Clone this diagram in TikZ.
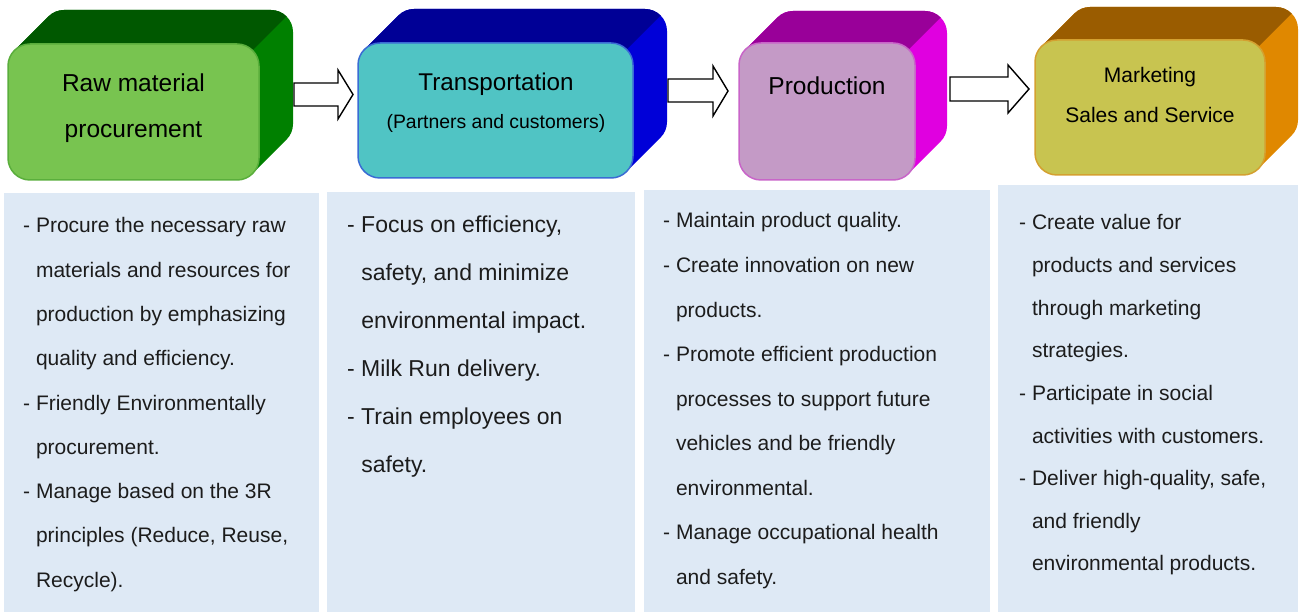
\documentclass[tikz,border=0pt]{standalone}
\usepackage{fontspec}
\setmainfont{Liberation Sans}
\definecolor{c1top}{HTML}{005800}\definecolor{c1side}{HTML}{008000}
\definecolor{c1front}{HTML}{78C450}\definecolor{c1edge}{HTML}{5AAE3C}
\definecolor{c2top}{HTML}{000096}\definecolor{c2side}{HTML}{0000D8}
\definecolor{c2front}{HTML}{50C4C4}\definecolor{c2edge}{HTML}{3A6CD4}
\definecolor{c3top}{HTML}{990099}\definecolor{c3side}{HTML}{E000E0}
\definecolor{c3front}{HTML}{C49AC6}\definecolor{c3edge}{HTML}{C865C8}
\definecolor{c4top}{HTML}{9A5C00}\definecolor{c4side}{HTML}{E08800}
\definecolor{c4front}{HTML}{C8C450}\definecolor{c4edge}{HTML}{D4A030}
\definecolor{panelblue}{HTML}{DEE9F5}
\definecolor{txt}{HTML}{1C1C1C}
\newcommand\cind{\hphantom{-\ }}
\def\R{22}
\pgfmathsetmacro\K{22*(1-sqrt(2)/2)}
\newcommand\cube[7]{%
  \fill[#7side] ({#2+\K},{#3+\K}) -- ({#2+\K+#6},{#3+\K-#6})
    arc[start angle=225,end angle=270,radius=\R] -- ({#4+#6-\R},{#3-#6})
    arc[start angle=270,end angle=360,radius=\R] -- ({#4+#6},{#5-#6-\R})
    arc[start angle=0,end angle=45,radius=\R] -- ({#4-\K},{#5-\K})
    arc[start angle=45,end angle=90,radius=\R] -- ({#2+\R},{#5})
    arc[start angle=90,end angle=180,radius=\R] -- ({#2},{#3+\R})
    arc[start angle=180,end angle=225,radius=\R] -- cycle;
  \fill[#7top] ({#2+\K},{#3+\K}) -- ({#2+\K+#6},{#3+\K-#6})
    arc[start angle=225,end angle=270,radius=\R] -- ({#4+#6-\R},{#3-#6})
    arc[start angle=270,end angle=315,radius=\R] -- ({#4-\K},{#3+\K}) -- cycle;
  \pgfmathsetmacro\W{#4-#2}\pgfmathsetmacro\H{#5-#3}%
  \node[frontbox, draw=#7edge, fill=#7front, minimum width=\W pt, minimum height=\H pt]
    (#1) at ({(#2+#4)/2},{(#3+#5)/2}) {};
}
\begin{document}
\begin{tikzpicture}[x=1pt,y=-1pt,
  frontbox/.style={rectangle, rounded corners=22pt, line width=1.5pt, inner sep=0pt},
  blockarrow/.style={fill=white, draw=black, line width=1.4pt, line join=miter},
  panel/.style={fill=panelblue},
  ttl/.style={anchor=base, inner sep=0pt, text=black},
  ptext/.style={anchor=base west, inner sep=0pt, text=txt, font=\fontsize{21}{25}\selectfont},
  ptextb/.style={anchor=base west, inner sep=0pt, text=txt, font=\fontsize{23}{27}\selectfont}]
\useasboundingbox (0,0) rectangle (1301,612);
\fill[white] (0,0) rectangle (1301,612);

% 3D boxes
\cube{b1}{8}{44}{259}{180}{34}{c1}
\cube{b2}{358}{43}{633}{178}{34}{c2}
\cube{b3}{739}{43}{915}{180}{32}{c3}
\cube{b4}{1035}{40}{1265}{175}{33}{c4}

% titles
\node[ttl, font=\fontsize{24.5}{28}\selectfont] (t1a) at (133.5,92) {Raw material};
\node[ttl, font=\fontsize{24.5}{28}\selectfont] (t1b) at (133.5,138) {procurement};
\node[ttl, font=\fontsize{24.2}{28}\selectfont] (t2a) at (496,91) {Transportation};
\node[ttl, font=\fontsize{19.4}{23}\selectfont] (t2b) at (496,129) {(Partners and customers)};
\node[ttl, font=\fontsize{24.5}{28}\selectfont] (t3a) at (827,95) {Production};
\node[ttl, font=\fontsize{21}{25}\selectfont] (t4a) at (1150,83) {Marketing};
\node[ttl, font=\fontsize{21}{25}\selectfont] (t4b) at (1150,123) {Sales and Service};

% block arrows
\draw[blockarrow] (294,83) -- (338,83) -- (338,70) -- (353,94.5) -- (338,119) -- (338,106) -- (294,106) -- cycle;
\draw[blockarrow] (668,79) -- (713,79) -- (713,66) -- (728,91) -- (713,116) -- (713,102) -- (668,102) -- cycle;
\draw[blockarrow] (950,77) -- (1008,77) -- (1008,65) -- (1029,89) -- (1008,113) -- (1008,101) -- (950,101) -- cycle;

% panels
\fill[panel] (4,193) rectangle (319,612);
\fill[panel] (327,192) rectangle (635,612);
\fill[panel] (644,190) rectangle (990,612);
\fill[panel] (998,185) rectangle (1298,612);

% panel texts
\foreach \txt [count=\i from 0] in {%
  - Procure the necessary raw,
  \cind materials and resources for,
  \cind production by emphasizing,
  \cind quality and efficiency.,
  - Friendly Environmentally,
  \cind procurement.,
  - Manage based on the 3R,
  {\cind principles (Reduce, Reuse,},
  \cind Recycle).}
  \node[ptext] (pa\i) at (23,{233+44.25*\i}) {\txt};

\foreach \txt [count=\i from 0] in {%
  {- Focus on efficiency,},
  {\cind safety, and minimize},
  \cind environmental impact.,
  - Milk Run delivery.,
  - Train employees on,
  \cind safety.}
  \node[ptextb] (pb\i) at (347,{233+47.9*\i}) {\txt};

\foreach \txt [count=\i from 0] in {%
  - Maintain product quality.,
  - Create innovation on new,
  \cind products.,
  - Promote efficient production,
  \cind processes to support future,
  \cind vehicles and be friendly,
  \cind environmental.,
  - Manage occupational health,
  \cind and safety.}
  \node[ptext] (pc\i) at (663,{228+44.5*\i}) {\txt};

\foreach \txt [count=\i from 0] in {%
  - Create value for,
  \cind products and services,
  \cind through marketing,
  \cind strategies.,
  - Participate in social,
  \cind activities with customers.,
  {- Deliver high-quality, safe,},
  \cind and friendly,
  \cind environmental products.}
  \node[ptext] (pd\i) at (1019,{230+42.6*\i}) {\txt};
\end{tikzpicture}
\end{document}
